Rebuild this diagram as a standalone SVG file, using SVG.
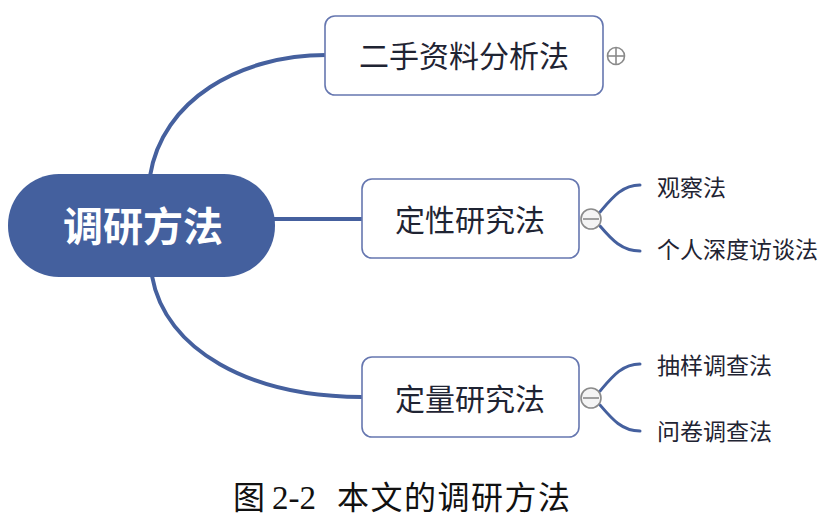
<svg xmlns="http://www.w3.org/2000/svg" width="840" height="521" viewBox="0 0 840 521">
<style>
.box{fill:#fff;stroke:#6677b0;stroke-width:1.6}
.main{fill:none;stroke:#45609e;stroke-width:4;stroke-linecap:round}
.leafc{fill:none;stroke:#45609e;stroke-width:3;stroke-linecap:round}
.t{font-family:"Noto Sans CJK SC",sans-serif;fill:#1f2433}
.t2{font-size:30px;text-anchor:middle}
.leaf{font-size:23px}
.tog{fill:#f4f4f4;stroke:#8a8a8a;stroke-width:1.6}
.togl{stroke:#8a8a8a;stroke-width:1.6}
.cap{font-family:"Noto Sans CJK SC",serif;font-size:32px;fill:#111}
</style>
<rect width="840" height="521" fill="#fff"/>
<g id="connectors">
<path class="main" d="M150,176 C162,100 240,55 326,55"/>
<path class="main" d="M274,219 L362,219"/>
<path class="main" d="M152,276 C165,350 250,397 362,397"/>
<path class="leafc" d="M600,212 C612,198 622,185 640,185"/>
<path class="leafc" d="M600,226 C612,240 622,251 640,251"/>
<path class="leafc" d="M600,391 C612,377 622,364 640,364"/>
<path class="leafc" d="M600,405 C612,419 622,431 640,431"/>
</g>
<g id="root">
<rect x="8" y="174" width="267" height="103" rx="51" fill="#44609e"/>
<text class="t" x="143" y="241" font-size="40" font-weight="bold" style="fill:#fff" text-anchor="middle">调研方法</text>
</g>
<g id="n1">
<rect class="box" x="325" y="16" width="278" height="79" rx="10"/>
<text class="t t2" x="464" y="67">二手资料分析法</text>
<circle class="tog" cx="616" cy="56" r="8.5" style="fill:#fff"/>
<line class="togl" x1="607.5" y1="56" x2="624.5" y2="56"/>
<line class="togl" x1="616" y1="47.5" x2="616" y2="64.5"/>
</g>
<g id="n2">
<rect class="box" x="362" y="179" width="217" height="79" rx="10"/>
<text class="t t2" x="470" y="231">定性研究法</text>
<circle class="tog" cx="591" cy="219" r="10"/>
<line class="togl" x1="583" y1="219" x2="599" y2="219"/>
</g>
<g id="n3">
<rect class="box" x="362" y="357" width="217" height="80" rx="10"/>
<text class="t t2" x="470" y="410">定量研究法</text>
<circle class="tog" cx="591" cy="398" r="10"/>
<line class="togl" x1="583" y1="398" x2="599" y2="398"/>
</g>
<g id="l1"><text class="t leaf" x="657" y="196">观察法</text></g>
<g id="l2"><text class="t leaf" x="657" y="258">个人深度访谈法</text></g>
<g id="l3"><text class="t leaf" x="657" y="374">抽样调查法</text></g>
<g id="l4"><text class="t leaf" x="657" y="440">问卷调查法</text></g>
<text class="cap" y="509"><tspan x="233">图</tspan><tspan x="272" font-family="'Liberation Serif',serif" font-size="33">2-2</tspan><tspan x="337" letter-spacing="1.5">本文的调研方法</tspan></text>
</svg>
